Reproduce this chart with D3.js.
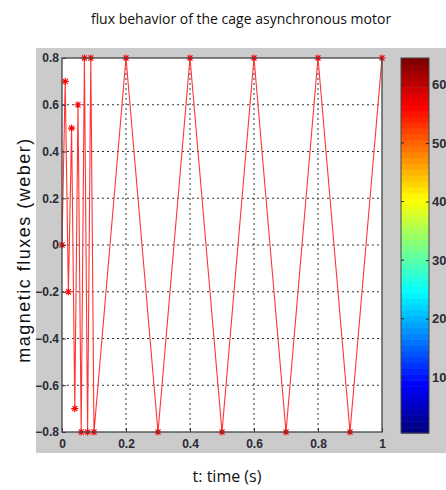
<!DOCTYPE html>
<html>
<head>
<meta charset="utf-8">
<script src="https://cdn.jsdelivr.net/npm/d3@7"></script>
<style>
  body { margin: 0; background: #fff; }
  svg { display: block; }
</style>
</head>
<body>
<svg id="frame"></svg>
<script>
// data
const timeValues = [0, 0.01, 0.02, 0.03, 0.04, 0.05, 0.06, 0.07, 0.08, 0.09, 0.1,
  0.2, 0.3, 0.4, 0.5, 0.6, 0.7, 0.8, 0.9, 1.0];
const fluxValues = [0, 0.7, -0.2, 0.5, -0.7, 0.6, -0.8, 0.8, -0.8, 0.8, -0.8,
  0.8, -0.8, 0.8, -0.8, 0.8, -0.8, 0.8, -0.8, 0.8];
const xTicks = [0, 0.2, 0.4, 0.6, 0.8, 1];
const yTicks = [-0.8, -0.6, -0.4, -0.2, 0, 0.2, 0.4, 0.6, 0.8];
const colorTicks = [10, 20, 30, 40, 50, 60];
const colorLevels = d3.range(1, 65); // 64 jet levels

const width = 446;
const height = 490;
const plot = {left: 62, right: 382, top: 58, bottom: 432};
const bar = {left: 401, right: 429, top: 58, bottom: 433};

const svg = d3.select('#frame')
  .attr('width', width)
  .attr('height', height);

// figure background
svg.append('rect')
  .attr('x', 36).attr('y', 48)
  .attr('width', width - 36).attr('height', 453 - 48)
  .attr('fill', '#cbcbcb');

const xScale = d3.scaleLinear().domain([0, 1]).range([plot.left, plot.right]);
const yScale = d3.scaleLinear().domain([-0.8, 0.8]).range([plot.bottom, plot.top]);

// plot area
svg.append('rect')
  .attr('x', plot.left).attr('y', plot.top)
  .attr('width', plot.right - plot.left).attr('height', plot.bottom - plot.top)
  .attr('fill', '#fff');

// grid
const grid = svg.append('g').attr('stroke', '#333').attr('stroke-width', 1)
  .attr('stroke-dasharray', '2,3');
grid.selectAll('.gx').data(xTicks.slice(1, -1)).enter()
  .append('line')
  .attr('x1', d => xScale(d)).attr('x2', d => xScale(d))
  .attr('y1', plot.top).attr('y2', plot.bottom);
grid.selectAll('.gy').data(yTicks.slice(1, -1)).enter()
  .append('line')
  .attr('y1', d => yScale(d)).attr('y2', d => yScale(d))
  .attr('x1', plot.left).attr('x2', plot.right);

// flux line
const line = d3.line()
  .x((d, i) => xScale(timeValues[i]))
  .y(d => yScale(d));
svg.append('path')
  .datum(fluxValues)
  .attr('d', line)
  .attr('fill', 'none')
  .attr('stroke', '#ff3535')
  .attr('stroke-width', 1.1);

// asterisk markers
const r = 3.6;
const k = r * 0.7;
const star = `M${-r},0H${r}M0,${-r}V${r}M${-k},${-k}L${k},${k}M${-k},${k}L${k},${-k}`;
svg.selectAll('.mark').data(fluxValues).enter()
  .append('path')
  .attr('class', 'mark')
  .attr('transform', (d, i) => `translate(${xScale(timeValues[i])},${yScale(d)})`)
  .attr('d', star)
  .attr('stroke', '#ff0000')
  .attr('stroke-width', 1.1)
  .attr('fill', 'none');

// axes
const xaxis = d3.axisBottom(xScale).tickValues(xTicks).tickFormat(d3.format('')).tickSizeInner(-4).tickSizeOuter(0).tickPadding(7);
const yaxis = d3.axisLeft(yScale).tickValues(yTicks).tickFormat(d3.format('')).tickSizeInner(-4).tickSizeOuter(0).tickPadding(3);

const gx = svg.append('g').attr('transform', `translate(0,${plot.bottom})`).call(xaxis);
const gy = svg.append('g').attr('transform', `translate(${plot.left},0)`).call(yaxis);
[gx, gy].forEach(g => {
  g.select('.domain').remove();
  g.selectAll('line').attr('stroke', '#333');
  g.selectAll('text')
    .attr('font-family', 'Liberation Sans, Arial, sans-serif')
    .attr('font-weight', 'bold')
    .attr('font-size', 12)
    .attr('fill', '#2a2a33');
});

// box
svg.append('rect')
  .attr('x', plot.left).attr('y', plot.top)
  .attr('width', plot.right - plot.left).attr('height', plot.bottom - plot.top)
  .attr('fill', 'none')
  .attr('stroke', '#444')
  .attr('stroke-width', 1.3);

// colorbar
function jet(t) {
  const c = v => Math.round(255 * Math.max(0, Math.min(1, v)));
  return d3.rgb(c(1.5 - Math.abs(4 * t - 3)), c(1.5 - Math.abs(4 * t - 2)), c(1.5 - Math.abs(4 * t - 1)));
}
const cScale = d3.scaleLinear().domain([0.5, 64.5]).range([bar.bottom, bar.top]);
svg.selectAll('.level').data(colorLevels).enter()
  .append('rect')
  .attr('x', bar.left)
  .attr('width', bar.right - bar.left)
  .attr('y', d => cScale(d + 0.5))
  .attr('height', d => cScale(d - 0.5) - cScale(d + 0.5) + 0.5)
  .attr('fill', d => jet((d - 1) / 63));

const caxis = d3.axisRight(cScale).tickValues(colorTicks).tickSizeInner(-3).tickSizeOuter(0).tickPadding(3);
const gc = svg.append('g').attr('transform', `translate(${bar.right},0)`).call(caxis);
gc.select('.domain').remove();
gc.selectAll('line').attr('stroke', '#222');
gc.selectAll('text')
  .attr('font-family', 'Liberation Sans Narrow, Liberation Sans, sans-serif')
  .attr('font-weight', 'bold')
  .attr('font-size', 13)
  .attr('fill', '#2a2a33');
svg.append('g').selectAll('line').data(colorTicks).enter()
  .append('line')
  .attr('x1', bar.left).attr('x2', bar.left + 3)
  .attr('y1', d => cScale(d)).attr('y2', d => cScale(d))
  .attr('stroke', '#222');
svg.append('rect')
  .attr('x', bar.left).attr('y', bar.top)
  .attr('width', bar.right - bar.left).attr('height', bar.bottom - bar.top)
  .attr('fill', 'none')
  .attr('stroke', '#444')
  .attr('stroke-width', 1);

// titles
svg.append('text')
  .attr('x', 241).attr('y', 24)
  .attr('text-anchor', 'middle')
  .attr('font-family', 'Open Sans, sans-serif')
  .attr('font-size', 14)
  .attr('fill', '#111')
  .text('flux behavior of the cage asynchronous motor');

svg.append('text')
  .attr('x', 227).attr('y', 482)
  .attr('text-anchor', 'middle')
  .attr('font-family', 'Open Sans, sans-serif')
  .attr('font-size', 16)
  .attr('fill', '#111')
  .text('t: time (s)');

svg.append('text')
  .attr('transform', 'translate(30,250) rotate(-90)')
  .attr('text-anchor', 'middle')
  .attr('font-family', 'Liberation Sans, Arial, sans-serif')
  .attr('font-size', 18)
  .attr('letter-spacing', 1.5)
  .attr('fill', '#111')
  .text('magnetic fluxes (weber)');
</script>
</body>
</html>
